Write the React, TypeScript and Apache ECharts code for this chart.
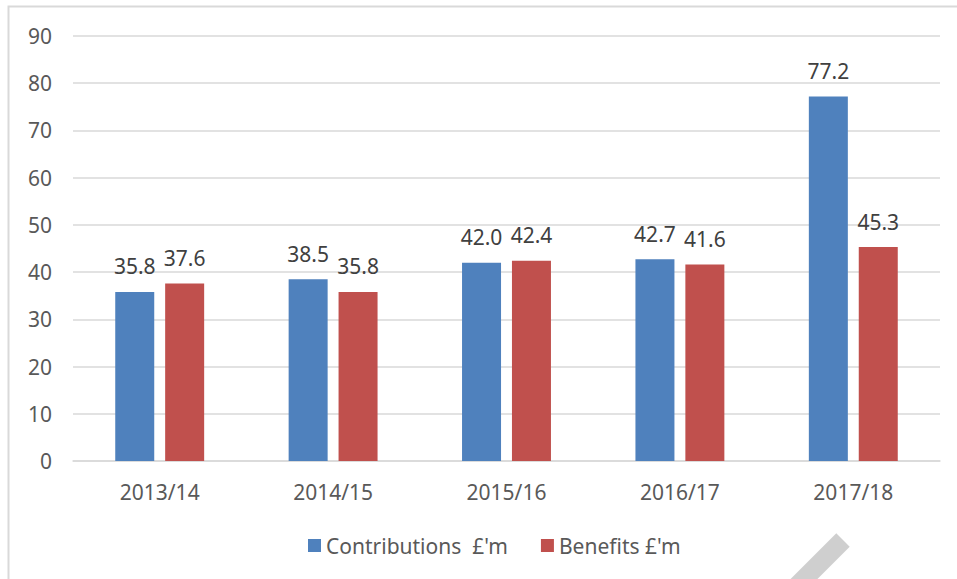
import React, { useEffect, useRef } from "react";
import * as echarts from "echarts";

const categories = ["2013/14", "2014/15", "2015/16", "2016/17", "2017/18"];
const contributions = [35.8, 38.5, 42.0, 42.7, 77.2];
const benefits = [37.6, 35.8, 42.4, 41.6, 45.3];
const seriesNames = ["Contributions  £'m", "Benefits £'m"];

const FONT = "'Noto Sans', 'Open Sans', sans-serif";

export default function App() {
  const ref = useRef<HTMLDivElement>(null);
  useEffect(() => {
    if (!ref.current) return;
    const chart = echarts.init(ref.current, null, { renderer: "svg" });
    const label = {
      show: true,
      position: "top" as const,
      distance: 15,
      color: "#404040",
      fontSize: 21,
      fontFamily: FONT,
      formatter: (p: any) => Number(p.value).toFixed(1),
    };
    chart.setOption({
      animation: false,
      backgroundColor: "#ffffff",
      grid: { left: 73, right: 17, top: 36, bottom: 118 },
      legend: {
        data: seriesNames,
        top: 530,
        left: 303,
        itemWidth: 13,
        itemHeight: 13,
        itemGap: 33,
        icon: "rect",
        textStyle: { color: "#595959", fontSize: 21, fontFamily: FONT },
      },
      xAxis: {
        type: "category",
        data: categories,
        axisLine: { lineStyle: { color: "#d9d9d9", width: 1.5 } },
        axisTick: { show: false },
        axisLabel: { color: "#595959", fontSize: 21, fontFamily: FONT, margin: 20 },
      },
      yAxis: {
        type: "value",
        min: 0,
        max: 90,
        interval: 10,
        axisLine: { show: false },
        axisTick: { show: false },
        splitLine: { lineStyle: { color: "#d9d9d9", width: 1.5 } },
        axisLabel: { color: "#595959", fontSize: 21, fontFamily: FONT, margin: 21 },
      },
      series: [
        {
          name: seriesNames[0],
          type: "bar",
          data: contributions,
          barWidth: 39,
          barGap: "28%",
          itemStyle: { color: "#4f81bd" },
          label,
        },
        {
          name: seriesNames[1],
          type: "bar",
          data: benefits,
          barWidth: 39,
          itemStyle: { color: "#c0504d" },
          label,
        },
      ],
      graphic: [
        {
          type: "rect",
          shape: { x: 8.5, y: 6.5, width: 1200, height: 1200 },
          style: { fill: "none", stroke: "#d9d9d9", lineWidth: 2 },
          silent: true,
        },
        {
          type: "line",
          shape: { x1: 843, y1: 540, x2: 780, y2: 603 },
          style: { stroke: "#cfcfcf", lineWidth: 19 },
          silent: true,
        },
      ],
    });
    return () => chart.dispose();
  }, []);
  return (
    <div
      ref={ref}
      style={{ position: "absolute", left: 0, top: 0, width: 957, height: 579 }}
    />
  );
}
